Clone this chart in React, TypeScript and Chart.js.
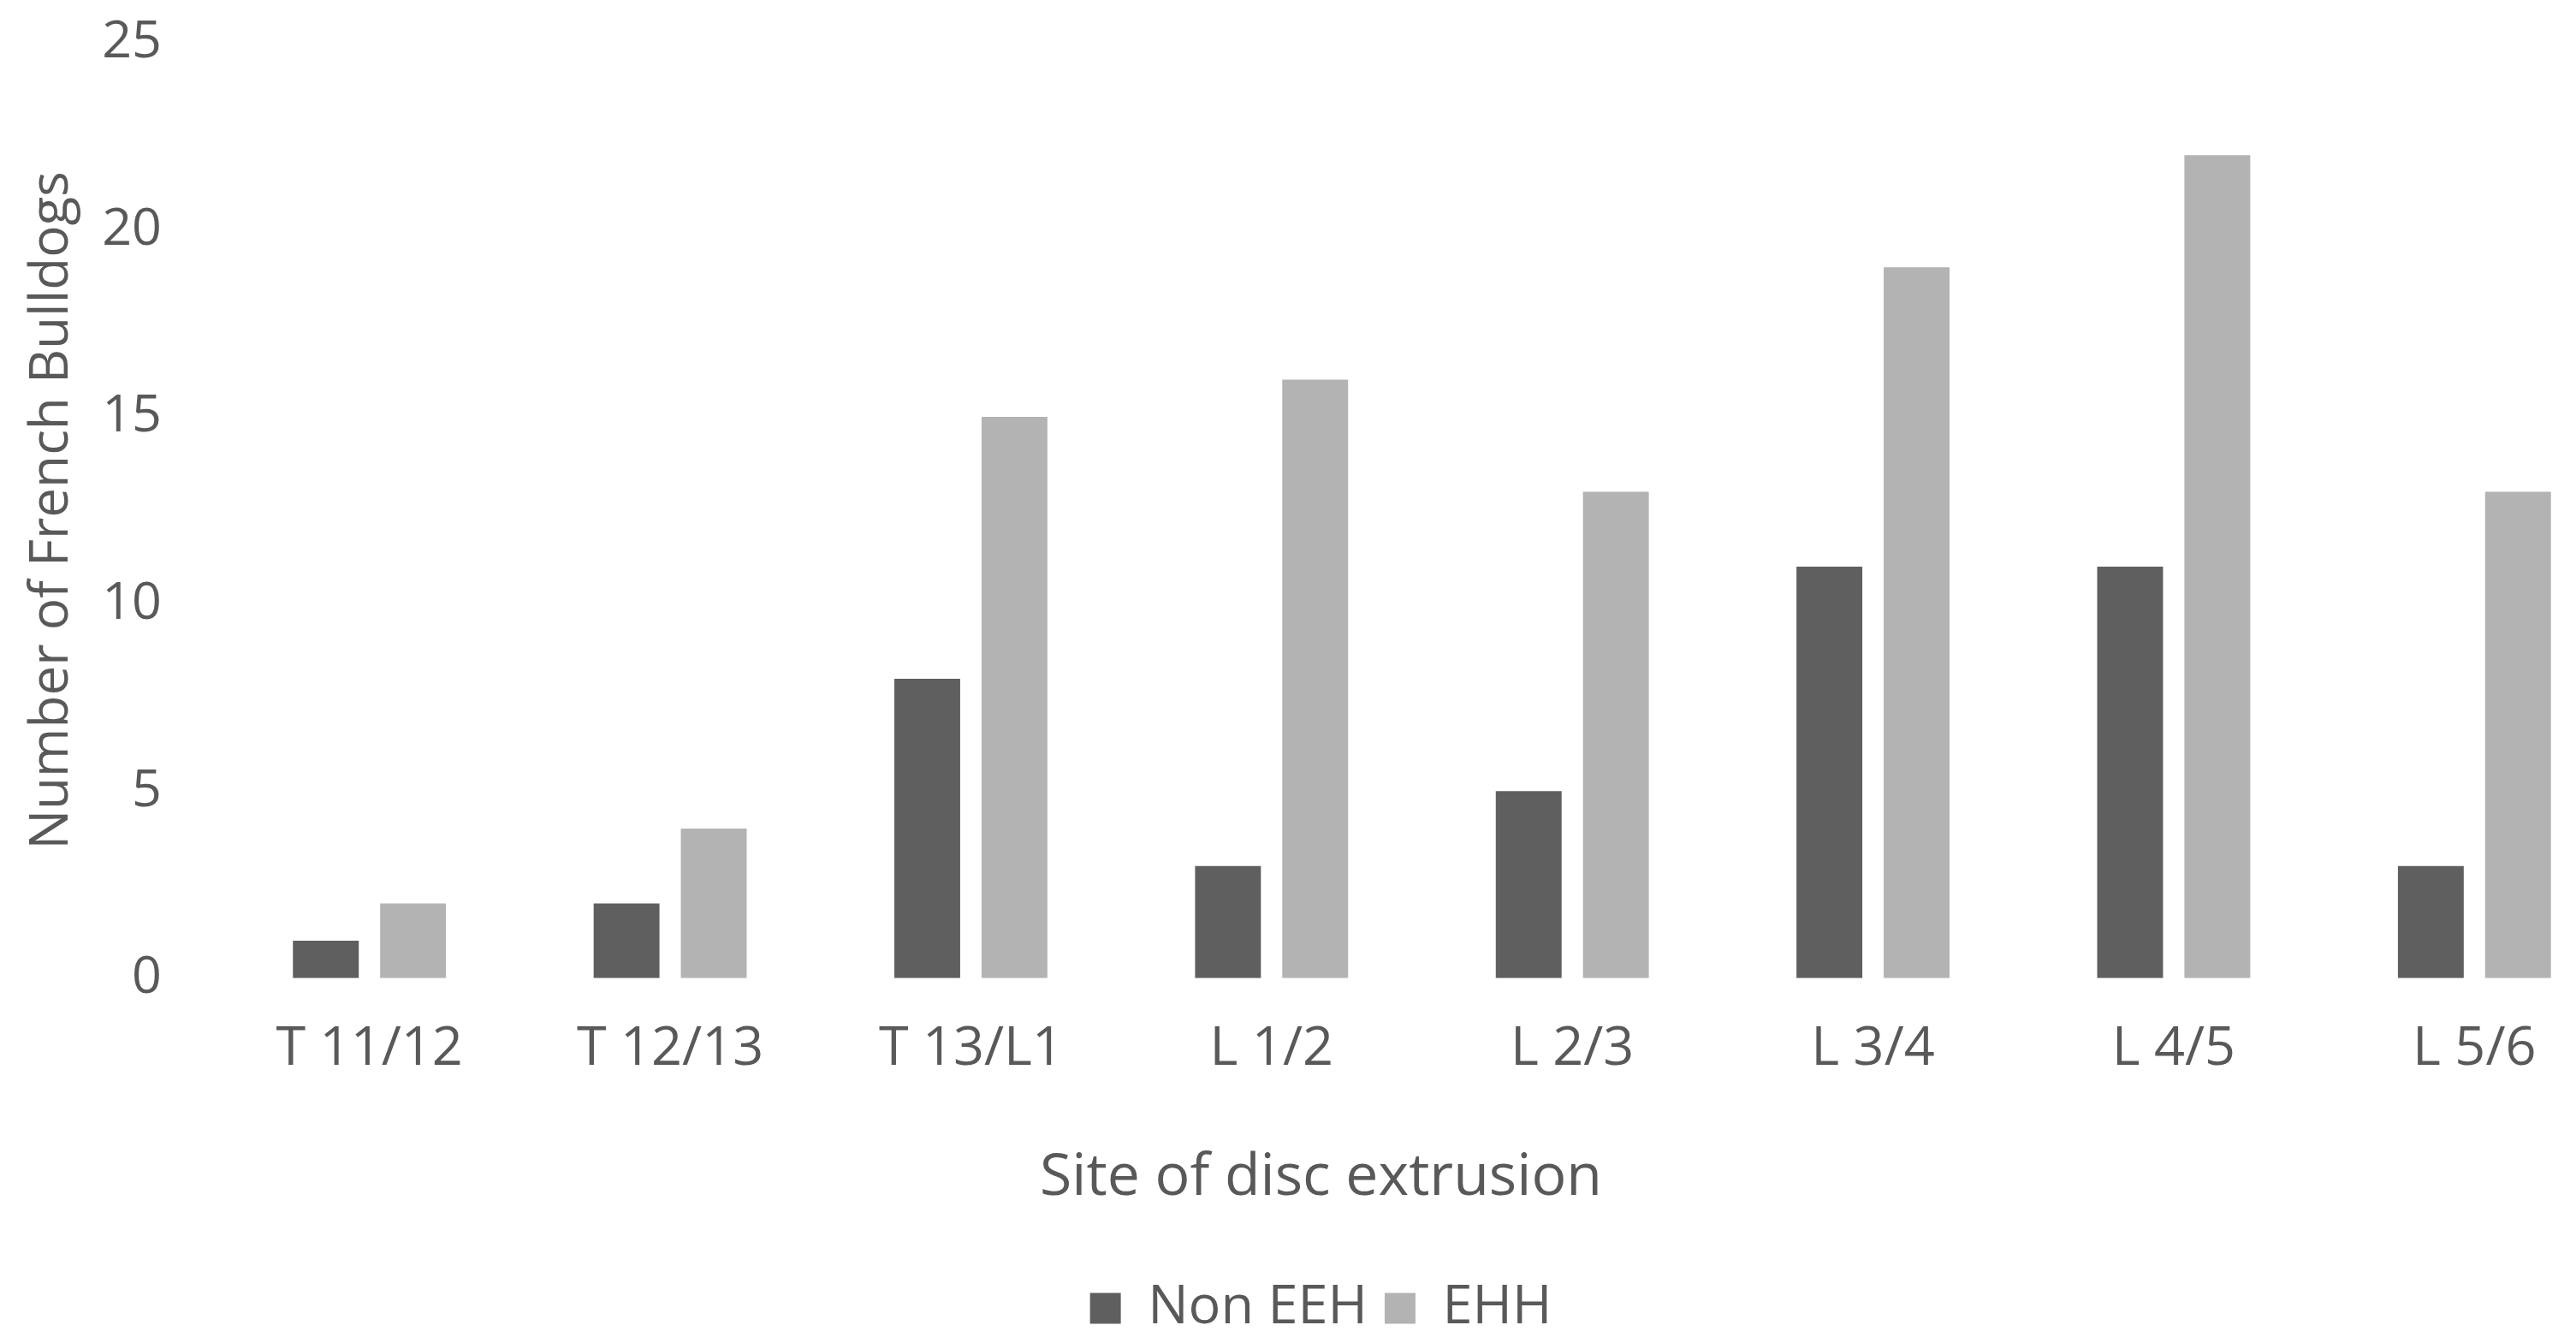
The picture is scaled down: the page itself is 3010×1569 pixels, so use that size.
import React, { useEffect, useRef } from "react";
import { Chart, registerables } from "chart.js";

Chart.register(...registerables);

const categories = ["T 11/12", "T 12/13", "T 13/L1", "L 1/2", "L 2/3", "L 3/4", "L 4/5", "L 5/6"];
const nonEEH = [1, 2, 8, 3, 5, 11, 11, 3];
const ehh = [2, 4, 15, 16, 13, 19, 22, 13];
const seriesNames = ["Non EEH", "EHH"];
const yTitle = "Number of French Bulldogs";
const xTitle = "Site of disc extrusion";

const TEXT = "#595959";
const FONT = "'Open Sans', sans-serif";

export default function App() {
  const ref = useRef<HTMLCanvasElement | null>(null);

  useEffect(() => {
    document.body.style.margin = "0";
    document.body.style.overflow = "hidden";
    const canvas = ref.current;
    if (!canvas) return;
    const chart = new Chart(canvas, {
      type: "bar",
      data: {
        labels: categories,
        datasets: [
          { label: seriesNames[0], data: nonEEH, backgroundColor: "#5f5f5f", borderWidth: 0 },
          { label: seriesNames[1], data: ehh, backgroundColor: "#b3b3b3", borderWidth: 0 },
        ],
      },
      options: {
        responsive: false,
        animation: false,
        devicePixelRatio: 1,
        datasets: { bar: { categoryPercentage: 0.58, barPercentage: 0.755 } },
        layout: { padding: { top: 50, right: 13, bottom: -1, left: 20 } },
        scales: {
          x: {
            grid: { display: false, drawTicks: false },
            border: { display: false },
            ticks: { color: TEXT, font: { family: FONT, size: 63 }, padding: 45 },
          },
          y: {
            min: 0,
            max: 25,
            grid: { display: false, drawTicks: false },
            border: { display: false },
            ticks: { stepSize: 5, color: TEXT, font: { family: FONT, size: 61 }, padding: 67 },
            title: {
              display: true,
              text: yTitle,
              color: TEXT,
              font: { family: FONT, size: 62 },
              padding: { top: 4, bottom: 10 },
            },
            afterFit: (s: any) => {
              s.width = 236;
              s.paddingTop = 0;
              s.paddingBottom = 0;
            },
          },
        },
        plugins: {
          title: {
            display: true,
            position: "bottom",
            text: xTitle,
            color: TEXT,
            weight: 500,
            font: { family: FONT, size: 68, weight: "normal" },
            padding: { top: 27, bottom: 60 },
          },
          legend: {
            position: "bottom",
            weight: 1000,
            labels: {
              color: TEXT,
              font: { family: FONT, size: 63 },
              boxWidth: 36,
              boxHeight: 36,
              padding: 20,
            },
          },
          tooltip: { enabled: false },
        },
      },
    });
    return () => chart.destroy();
  }, []);

  return (
    <div style={{ width: 3010, height: 1569, overflow: "hidden", background: "#fff" }}>
      <canvas ref={ref} width={3080} height={1569} style={{ width: 3080, height: 1569, display: "block" }} />
    </div>
  );
}
